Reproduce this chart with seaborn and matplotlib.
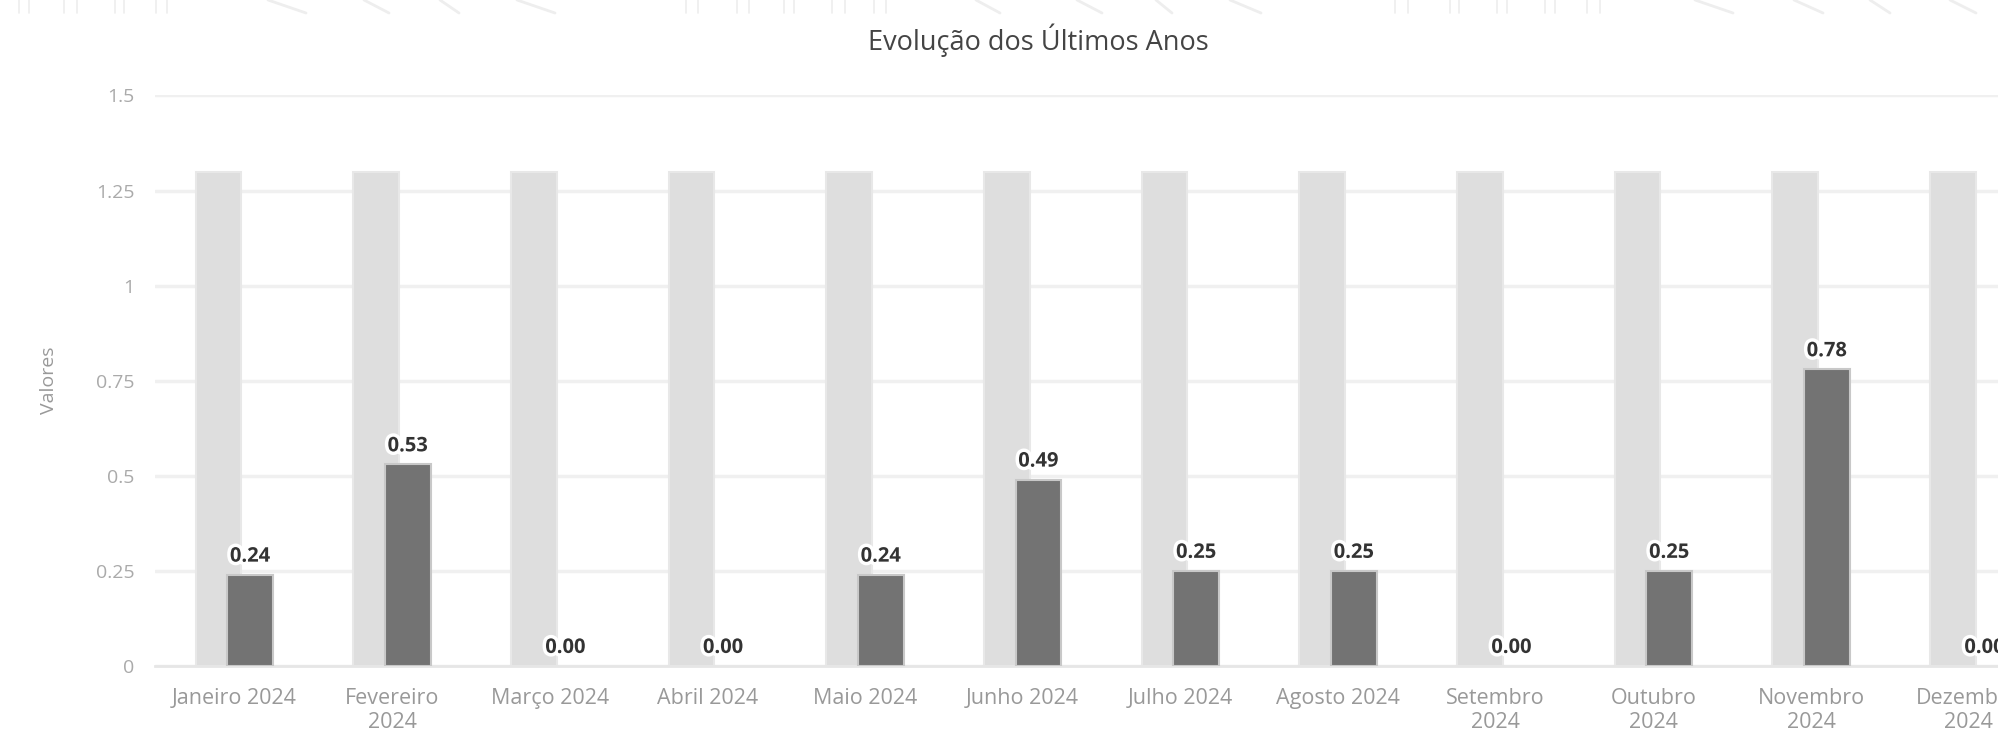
import numpy as np
import pandas as pd
import matplotlib
matplotlib.use("Agg")
import matplotlib.pyplot as plt
import matplotlib.patheffects as pe
from matplotlib.lines import Line2D
import seaborn as sns

# data
meses = ["Janeiro 2024", "Fevereiro\n2024", "Março 2024", "Abril 2024", "Maio 2024",
         "Junho 2024", "Julho 2024", "Agosto 2024", "Setembro\n2024", "Outubro\n2024",
         "Novembro\n2024", "Dezembro\n2024"]
valores = [0.24, 0.53, 0.00, 0.00, 0.24, 0.49, 0.25, 0.25, 0.00, 0.25, 0.78, 0.00]
fundo = [1.3] * 12
y_ticks = [0, 0.25, 0.5, 0.75, 1, 1.25, 1.5]
y_tick_labels = ["0", "0.25", "0.5", "0.75", "1", "1.25", "1.5"]

df = pd.DataFrame({"mes": meses, "valor": valores, "fundo": fundo})

sns.set_style("white")
plt.rcParams["font.family"] = ["Open Sans", "DejaVu Sans"]

fig = plt.figure(figsize=(19.98, 7.30), dpi=100)
ax = fig.add_axes([0.0778, 0.0877, 0.947, 0.7815])

# background (gray) bars and value bars
sns.barplot(data=df, x="mes", y="fundo", order=meses, color="#dedede", width=0.29,
            edgecolor="#e8e8e8", linewidth=1.5, saturation=1, ax=ax, zorder=2)
n_bg = len(ax.patches)
sns.barplot(data=df, x="mes", y="valor", order=meses, color="#737373", width=0.29,
            edgecolor="#c8c8c8", linewidth=1.5, saturation=1, ax=ax, zorder=3)

for i, p in enumerate(ax.patches):
    shift = -0.1 if i < n_bg else 0.1
    p.set_x(p.get_x() + shift)
    if p.get_height() == 0:
        p.set_visible(False)

# value labels
for i, v in enumerate(valores):
    ax.annotate(f"{v:.2f}", (i + 0.1, v), xytext=(0, 13), textcoords="offset points",
                ha="center", va="center", fontsize=14.5, fontweight="bold", color="#333333",
                path_effects=[pe.withStroke(linewidth=5, foreground="white")], zorder=5)

ax.set_xlim(-0.5, len(meses) - 0.5)
ax.set_ylim(0, 1.5)
ax.set_yticks(y_ticks)
ax.set_yticklabels(y_tick_labels)
ax.yaxis.grid(True, color="#f0f0f0", linewidth=2.5, zorder=0)
ax.set_axisbelow(True)

# ticks between categories
ax.set_xticks(np.arange(len(meses)))
ax.set_xticklabels(meses, fontsize=15.5, color="#999999", linespacing=1.15)
ax.tick_params(axis="x", length=0, pad=16)
ax.set_xticks(np.arange(len(meses) + 1) - 0.5, minor=True)
ax.tick_params(axis="x", which="minor", length=14, width=1.5, color="#e6e6e6")
ax.tick_params(axis="y", length=0, pad=15, labelsize=14, labelcolor="#aaaaaa")

for s in ["top", "right", "left"]:
    ax.spines[s].set_visible(False)
ax.spines["bottom"].set_color("#e6e6e6")
ax.spines["bottom"].set_linewidth(2)

ax.set_xlabel("")
ax.set_ylabel("Valores", fontsize=14, color="#999999")
ax.yaxis.set_label_coords(-0.0515, 0.5)

fig.text(1038 / 1998, 1 - 40 / 730, "Evolução dos Últimos Anos", ha="center", va="center",
         fontsize=19.5, color="#444444")

# faint decorative strokes along the top edge
verticais = [19, 29, 64, 77, 115, 124, 156, 167, 686, 698, 737, 749, 784, 794, 832, 845,
             874, 886, 1395, 1408, 1450, 1459, 1497, 1507, 1545, 1555, 1587, 1600]
diagonais = [(268, 306), (364, 389), (440, 459), (517, 555), (976, 1000), (1077, 1102),
             (1156, 1172), (1230, 1261), (1695, 1733), (1794, 1823), (1870, 1890), (1950, 1976)]
for xv in verticais:
    fig.add_artist(Line2D([xv / 1998, xv / 1998], [1, 1 - 13 / 730], color="#eeeeee", lw=1.2))
for x0, x1 in diagonais:
    fig.add_artist(Line2D([x0 / 1998, x1 / 1998], [1, 1 - 13 / 730], color="#eeeeee", lw=2))

fig.savefig("out.png", dpi=100)
